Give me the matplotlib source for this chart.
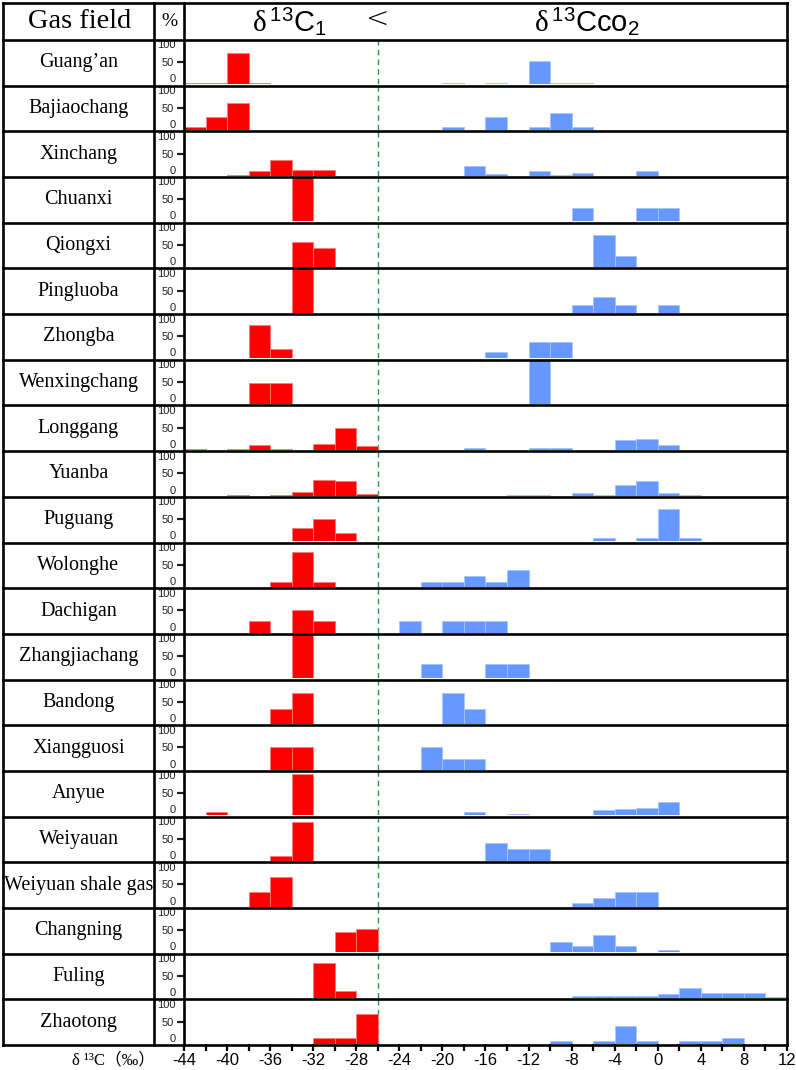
import matplotlib
matplotlib.use("Agg")
import matplotlib.pyplot as plt
import matplotlib.transforms as mtransforms
import numpy as np

# gas fields, top to bottom
fields = ["Guang\u2019an", "Bajiaochang", "Xinchang", "Chuanxi", "Qiongxi",
          "Pingluoba", "Zhongba", "Wenxingchang", "Longgang", "Yuanba",
          "Puguang", "Wolonghe", "Dachigan", "Zhangjiachang", "Bandong",
          "Xiangguosi", "Anyue", "Weiyauan", "Weiyuan shale gas",
          "Changning", "Fuling", "Zhaotong"]

# left edges of the 2 permil bins and the % in each bin, delta13C1
c1_left = [
    [-44, -42, -40, -38],
    [-44, -42, -40],
    [-40, -38, -36, -34, -32],
    [-34],
    [-34, -32],
    [-34],
    [-38, -36],
    [-38, -36],
    [-44, -40, -38, -36, -32, -30, -28],
    [-40, -36, -34, -32, -30, -28],
    [-34, -32, -30],
    [-36, -34, -32],
    [-38, -34, -32],
    [-34],
    [-36, -34],
    [-36, -34],
    [-42, -34],
    [-36, -34],
    [-38, -36],
    [-30, -28],
    [-32, -30],
    [-32, -30, -28],
]
c1_pct = [
    [4, 4, 70, 4],
    [6, 30, 61],
    [2, 11, 35, 13, 13],
    [100],
    [57, 43],
    [100],
    [75, 22],
    [48, 48],
    [2, 2, 10, 2, 14, 50, 9],
    [2, 2, 8, 35, 32, 3],
    [30, 49, 19],
    [11, 79, 11],
    [25, 50, 25],
    [100],
    [34, 70],
    [50, 50],
    [8, 92],
    [11, 87],
    [33, 67],
    [45, 53],
    [80, 16],
    [13, 13, 66],
]

# same for delta13C of CO2
co2_left = [
    [-20, -16, -12, -10, -8],
    [-20, -16, -12, -10, -8],
    [-18, -16, -12, -10, -8, -2],
    [-8, -2, 0],
    [-6, -4],
    [-8, -6, -4, 0],
    [-16, -12, -10],
    [-12],
    [-18, -12, -10, -4, -2, 0],
    [-14, -12, -8, -6, -4, -2, 0, 2],
    [-6, -2, 0, 2],
    [-22, -20, -18, -16, -14],
    [-24, -20, -18, -16],
    [-22, -16, -14],
    [-20, -18],
    [-22, -20, -18],
    [-18, -14, -6, -4, -2, 0],
    [-16, -14, -12],
    [-8, -6, -4, -2],
    [-10, -8, -6, -4, 0],
    [-8, -6, -4, -2, 0, 2, 4, 6, 8, 10],
    [-10, -6, -4, -2, 2, 4, 6],
]
co2_pct = [
    [4, 4, 53, 4, 4],
    [6, 30, 6, 38, 6],
    [22, 5, 11, 2, 6, 11],
    [30, 30, 30],
    [72, 24],
    [17, 35, 17, 17],
    [15, 36, 36],
    [100],
    [5, 5, 5, 22, 25, 12],
    [2, 2, 5, 2, 24, 32, 5, 2],
    [8, 8, 72, 8],
    [11, 11, 25, 11, 39],
    [25, 25, 25, 25],
    [33, 33, 33],
    [70, 34],
    [50, 25, 25],
    [8, 3, 11, 14, 17, 31],
    [41, 27, 27],
    [8, 19, 33, 33],
    [23, 15, 39, 15, 5],
    [4, 4, 4, 4, 9, 22, 11, 11, 11, 3],
    [5, 5, 40, 5, 5, 5, 13],
]

x_ticks = np.arange(-44, 13, 2)
x_labels = [str(v) if (v + 44) % 4 == 0 else "" for v in x_ticks]

plt.rcParams["mathtext.fontset"] = "custom"
plt.rcParams["mathtext.rm"] = "Liberation Sans"
plt.rcParams["mathtext.it"] = "Liberation Serif"

serif = ["Liberation Serif", "DejaVu Serif"]
narrow = ["Liberation Sans Narrow", "Liberation Sans", "DejaVu Sans"]

W, H = 796, 1070
fig = plt.figure(figsize=(W / 100, H / 100), dpi=100)

# table geometry in pixels
x_left, x_name, x_pct, x_right = 3, 154, 184, 787
y_top, y_head, y_bot = 3, 40, 1045
row_h = (y_bot - y_head) / len(fields)
lift = 1.3  # bars sit on top of the thick row line


def fx(px):
    return px / W


def fy(py):
    return 1 - py / H


for i, name in enumerate(fields):
    top = y_head + i * row_h
    base = top + row_h - lift
    ax = fig.add_axes([fx(x_pct), fy(base), (x_right - x_pct) / W, (base - top) / H])
    ax.set_xlim(-44, 12)
    ax.set_ylim(0, 100)
    ax.patch.set_alpha(0)
    for s in ax.spines.values():
        s.set_visible(False)

    ax.bar(c1_left[i], c1_pct[i], width=2, align="edge", color="#ff0000",
           edgecolor="#ff7a7a", linewidth=0.6, zorder=2)
    ax.bar(co2_left[i], co2_pct[i], width=2, align="edge", color="#6699ff",
           edgecolor="#a8c4ff", linewidth=0.6, zorder=2)
    ax.axvline(-26, color="#229944", lw=1.0, ls=(0, (4, 3)), zorder=1)

    # % scale: tick only at 50, 0 and 100 written in
    ax.set_yticks([50])
    ax.set_yticklabels(["50"], fontfamily=narrow, fontsize=8)
    ax.tick_params(axis="y", length=5, width=1.6, pad=2, colors="#222222")
    tr = mtransforms.offset_copy(ax.get_yaxis_transform(), fig=fig, x=-8.5, y=0, units="dots")
    ax.text(0, 99, "100", transform=tr, ha="right", va="top", fontfamily=narrow,
            fontsize=8, color="#222222")
    ax.text(0, 0, "0", transform=tr, ha="right", va="bottom", fontfamily=narrow,
            fontsize=8, color="#222222")

    if i == len(fields) - 1:
        ax.set_xticks(x_ticks)
        ax.set_xticklabels(x_labels, fontfamily="Liberation Sans", fontsize=12)
        ax.tick_params(axis="x", direction="out", length=5, width=1.6, pad=1.5)
    else:
        ax.set_xticks([])

    fig.text(fx((x_left + x_name) / 2), fy(top + row_h / 2), name, ha="center",
             va="center", fontfamily=serif, fontsize=14.5)

# header
fig.text(fx(80), fy(21), "Gas field", ha="center", va="center", fontfamily=serif, fontsize=20.5)
fig.text(fx(169), fy(22), "%", ha="center", va="center", fontfamily=serif, fontsize=14)
fig.text(fx(289), fy(22), r"$\delta\,^{13}\mathrm{C}_{1}$", ha="center", va="center", fontsize=21)
fig.text(fx(378), fy(20), "<", ha="center", va="center", fontfamily="DejaVu Sans",
         fontsize=20, fontweight="light")
fig.text(fx(587), fy(22), r"$\delta\,^{13}\mathrm{Cco}_{2}$", ha="center", va="center", fontsize=21)

fig.text(fx(155), fy(1060), "\u03b4 \u00b9\u00b3C\uff08\u2030\uff09", ha="right", va="center",
         fontfamily=["Liberation Serif", "Noto Sans CJK SC"], fontsize=12)

# table lines on top
ov = fig.add_axes([0, 0, 1, 1])
ov.set_xlim(0, W)
ov.set_ylim(H, 0)
ov.axis("off")
ov.patch.set_alpha(0)
lw = 1.9
ov.plot([x_left, x_right], [y_top, y_top], color="black", lw=lw)
ov.plot([x_left, x_right], [y_head, y_head], color="black", lw=lw)
for i in range(len(fields)):
    yb = y_head + (i + 1) * row_h
    ov.plot([x_left, x_right], [yb, yb], color="black", lw=lw)
for xv in [x_left, x_name, x_pct, x_right]:
    ov.plot([xv, xv], [y_top, y_bot], color="black", lw=lw)

fig.savefig("out.png", dpi=100)
